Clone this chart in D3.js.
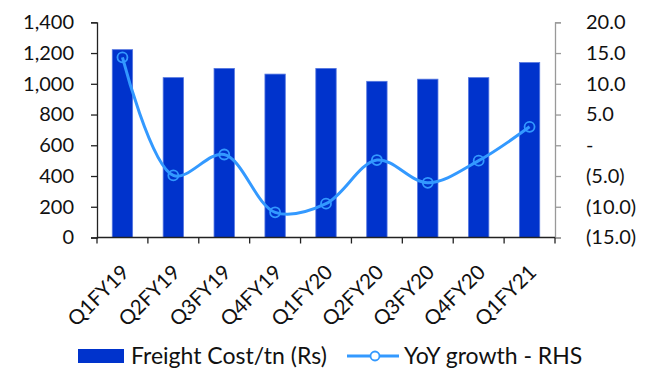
<!DOCTYPE html>
<html><head><meta charset="utf-8">
<script src="https://cdn.jsdelivr.net/npm/d3@7"></script>
<style>body{margin:0;background:#fff}svg{display:block}text{font-family:Lato,"Open Sans",sans-serif;fill:#111}</style>
</head><body>
<svg id="c" width="658" height="369"></svg>
<script>
const categories = ["Q1FY19","Q2FY19","Q3FY19","Q4FY19","Q1FY20","Q2FY20","Q3FY20","Q4FY20","Q1FY21"];
const freightCost = [1222, 1040, 1100, 1063, 1100, 1016, 1030, 1040, 1138];
const yoyGrowth = [14.3, -4.9, -1.5, -10.9, -9.5, -2.4, -6.1, -2.5, 3.0];
const leftTicks = [0,200,400,600,800,1000,1200,1400];
const rightTicks = [20,15,10,5,0,-5,-10,-15];
const seriesNames = ["Freight Cost/tn (Rs)", "YoY growth - RHS"];

const svg = d3.select("#c");
const x0 = 97, x1 = 555, yTop = 22.3, yBot = 237.5;
const xb = d3.scaleBand().domain(categories).range([x0, x1]);
const cx = c => xb(c) + xb.bandwidth()/2;
const barW = xb.bandwidth()*0.4;
const yL = d3.scaleLinear().domain([0,1400]).range([yBot, yTop]);
const yR = d3.scaleLinear().domain([-15,20]).range([yBot, yTop]);

// bars
svg.append("g").selectAll("rect").data(freightCost).join("rect")
  .attr("x",(d,i)=>cx(categories[i])-barW/2).attr("width",barW)
  .attr("y",d=>yL(d)).attr("height",d=>yBot-yL(d))
  .attr("fill","#0033CC").attr("stroke","#5577e0").attr("stroke-width",0.8);

// left axis
const gL = svg.append("g").attr("transform",`translate(${x0},0)`)
  .call(d3.axisLeft(yL).tickValues(leftTicks).tickSize(6).tickPadding(17).tickFormat(d3.format(",")));
gL.select(".domain").attr("stroke","#222").attr("stroke-width",1.3);
gL.selectAll(".tick line").attr("stroke","#222").attr("stroke-width",1.3);
gL.selectAll("text").style("font-size","20px").attr("fill","#111");

// right axis
const fmtR = v => v===0 ? "-" : (v<0 ? "("+d3.format(".1f")(-v)+")" : d3.format(".1f")(v));
const gR = svg.append("g").attr("transform",`translate(${x1},0)`)
  .call(d3.axisRight(yR).tickValues(rightTicks).tickSize(6).tickPadding(25).tickFormat(fmtR));
gR.select(".domain").attr("stroke","#999").attr("stroke-width",1.3);
gR.selectAll(".tick line").attr("stroke","#999").attr("stroke-width",1.3);
gR.selectAll("text").style("font-size","20px").attr("fill","#111");

// x axis
const gX = svg.append("g").attr("transform",`translate(0,${yBot})`);
gX.append("line").attr("x1",x0).attr("x2",x1).attr("stroke","#222").attr("stroke-width",1.3);
const bounds = categories.map(c=>xb(c)).concat([x1]);
gX.selectAll("line.t").data(bounds).join("line").attr("class","t")
  .attr("x1",d=>d).attr("x2",d=>d).attr("y1",0).attr("y2",6).attr("stroke","#222").attr("stroke-width",1.3);
gX.selectAll("text").data(categories).join("text")
  .attr("transform",d=>`translate(${cx(d)+8},${36}) rotate(-45)`)
  .attr("text-anchor","end").style("font-size","20.5px").text(d=>d);

// line
const line = d3.line().x((d,i)=>cx(categories[i])).y(d=>yR(d)).curve(d3.curveCatmullRom.alpha(0.5));
svg.append("path").datum(yoyGrowth).attr("d",line).attr("fill","none").attr("stroke","#3399FF").attr("stroke-width",3);
svg.append("g").selectAll("circle").data(yoyGrowth).join("circle")
  .attr("cx",(d,i)=>cx(categories[i])).attr("cy",d=>yR(d)).attr("r",5)
  .attr("fill","none").attr("stroke","#3399FF").attr("stroke-width",1.8);

// legend
const lg = svg.append("g");
lg.append("rect").attr("x",78).attr("y",349).attr("width",46).attr("height",14).attr("fill","#0033CC");
lg.append("text").attr("x",131).attr("y",363.5).style("font-size","23px").text(seriesNames[0]);
lg.append("line").attr("x1",347).attr("x2",399).attr("y1",356).attr("y2",356).attr("stroke","#3399FF").attr("stroke-width",3);
lg.append("circle").attr("cx",375).attr("cy",356).attr("r",4.5).attr("fill","#fff").attr("stroke","#3399FF").attr("stroke-width",1.8);
lg.append("text").attr("x",404).attr("y",363.5).style("font-size","23px").text(seriesNames[1]);
</script>
</body></html>
